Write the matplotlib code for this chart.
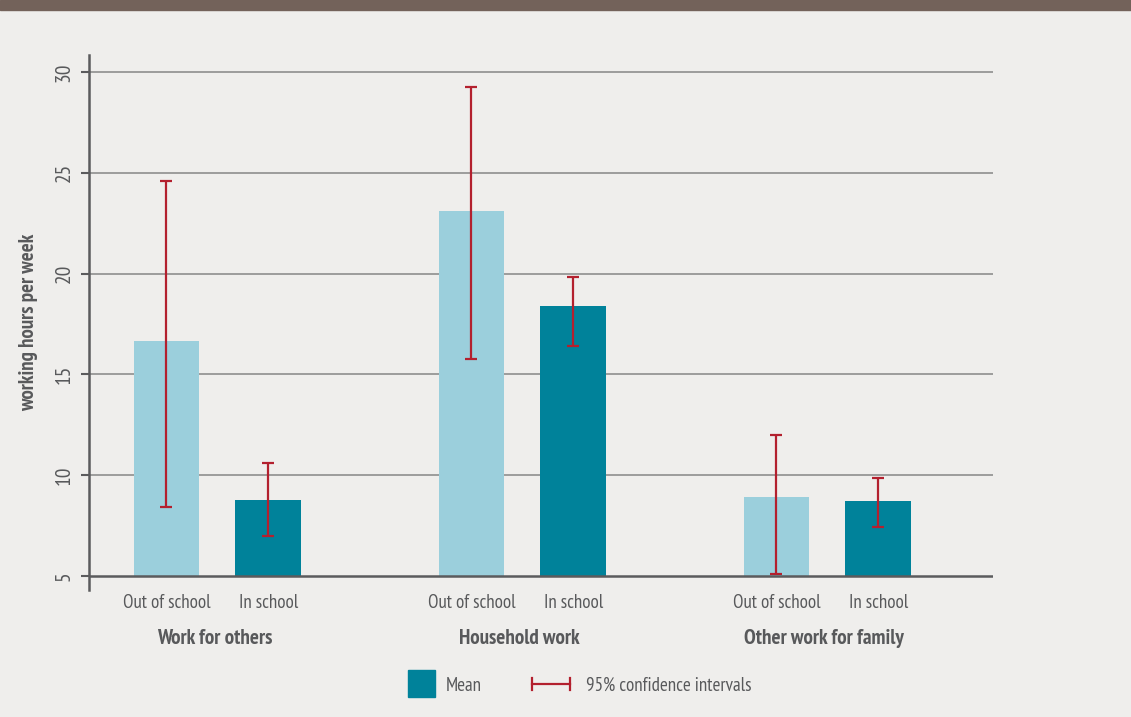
import matplotlib
matplotlib.use("Agg")
import matplotlib.pyplot as plt
from matplotlib.patches import Rectangle
from matplotlib.lines import Line2D
import numpy as np

plt.rcParams['font.family'] = ['PT Sans Narrow', 'DejaVu Sans']

# Mean weekly working hours with 95% confidence bounds
groups = ["Work for others", "Household work", "Other work for family"]
status = ["Out of school", "In school"]
mean_out = [16.66, 23.1, 8.92]
low_out = [8.44, 15.76, 5.1]
high_out = [24.58, 29.26, 12.0]
mean_in = [8.77, 18.39, 8.72]
low_in = [6.98, 16.41, 7.43]
high_in = [10.62, 19.82, 9.85]

light_blue = "#9bcfdc"
teal = "#00829a"
red = "#b3202e"
text_grey = "#58595b"
grid_grey = "#8e8e8e"
axis_grey = "#5b5b5d"
bg = "#efeeec"

fig = plt.figure(figsize=(11.31, 7.17), dpi=100, facecolor=bg)
ax = fig.add_axes([89 / 1131, 127 / 717, 904 / 1131, 535 / 717])
ax.set_facecolor(bg)

# brown header band
fig.patches.append(Rectangle((0, 707 / 717), 1, 10 / 717, transform=fig.transFigure,
                             color="#73625a", zorder=0))

x = np.arange(len(groups))
off = 0.167
width = 0.216
base = 5

mean_out = np.array(mean_out)
mean_in = np.array(mean_in)
ax.bar(x - off, mean_out - base, width, bottom=base, color=light_blue, zorder=2)
ax.bar(x + off, mean_in - base, width, bottom=base, color=teal, zorder=2)

err_out = [mean_out - np.array(low_out), np.array(high_out) - mean_out]
err_in = [mean_in - np.array(low_in), np.array(high_in) - mean_in]
for xs, m, e in [(x - off, mean_out, err_out), (x + off, mean_in, err_in)]:
    ax.errorbar(xs, m, yerr=e, fmt="none", ecolor=red, elinewidth=1.6,
                capsize=4.3, capthick=1.6, zorder=3)

ax.set_xlim(-0.421, 2.543)
ax.set_ylim(4.31, 30.84)
ax.set_yticks([5, 10, 15, 20, 25, 30])
for v in [10, 15, 20, 25, 30]:
    ax.axhline(v, color=grid_grey, lw=1.2, zorder=1)
ax.axhline(base, color=axis_grey, lw=1.8, zorder=4)

for s in ["top", "right", "bottom"]:
    ax.spines[s].set_visible(False)
ax.spines["left"].set_color(axis_grey)
ax.spines["left"].set_linewidth(1.8)
ax.set_xticks([])
ax.tick_params(axis="y", length=6, width=1.5, color=axis_grey, pad=5,
               labelsize=15.5, labelcolor=text_grey, labelrotation=90)
for lab in ax.get_yticklabels():
    lab.set_va("center")

ax.set_ylabel("working hours per week", fontsize=15, fontweight="bold",
              color=text_grey, labelpad=12)

tr = ax.get_xaxis_transform()
for i, g in enumerate(groups):
    ax.text(x[i] - off, -0.025, status[0], transform=tr, ha="center", va="center",
            fontsize=13.7, color=text_grey)
    ax.text(x[i] + off, -0.025, status[1], transform=tr, ha="center", va="center",
            fontsize=13.7, color=text_grey)
    ax.text(x[i] - 0.01, -0.090, g, transform=tr, ha="center", va="center",
            fontsize=15.2, fontweight="bold", color=text_grey)

# legend drawn in figure space
fy = 1 - 686 / 717
fig.patches.append(Rectangle((408 / 1131, 1 - 697 / 717), 27 / 1131, 27 / 717,
                             transform=fig.transFigure, color=teal))
fig.text(446 / 1131, fy, "Mean", ha="left", va="center", fontsize=13.7, color=text_grey)
ly = 1 - 684 / 717
fig.lines.append(Line2D([532 / 1131, 570 / 1131], [ly, ly], transform=fig.transFigure,
                        color=red, lw=1.6))
for cx in [532 / 1131, 570 / 1131]:
    fig.lines.append(Line2D([cx, cx], [ly - 6 / 717, ly + 6 / 717],
                            transform=fig.transFigure, color=red, lw=1.6))
fig.text(586 / 1131, fy, "95% confidence intervals", ha="left", va="center",
         fontsize=13.7, color=text_grey)

fig.savefig("out.png", dpi=100, facecolor=bg)
